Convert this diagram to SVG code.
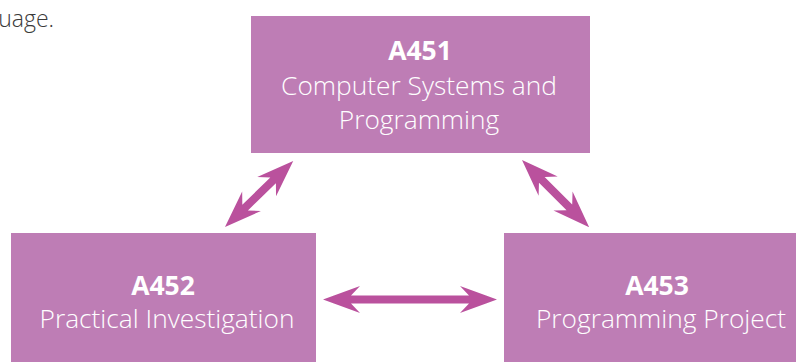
<svg xmlns="http://www.w3.org/2000/svg" width="796" height="362" viewBox="0 0 796 362">
<style>
.box{fill:#BE7DB5}
.t{font-family:"Open Sans","Liberation Sans",sans-serif;fill:#fff;text-anchor:middle}
.h{font-weight:700;font-size:26.5px}
.b{font-weight:300;font-size:26.3px}
.arr{fill:#BA519D}
</style>
<rect width="796" height="362" fill="#fff"/>
<text x="54" y="27" font-family="'Open Sans','Liberation Sans',sans-serif" font-weight="300" font-size="23" fill="#3a3a3a" text-anchor="end">uage.</text>
<g id="a451">
<rect class="box" x="251" y="16" width="339" height="137"/>
<text class="t h" x="420" y="60">A451</text>
<text class="t b" x="419" y="95">Computer Systems and</text>
<text class="t b" x="419" y="129">Programming</text>
</g>
<g id="a452">
<rect class="box" x="11" y="233" width="305" height="129"/>
<text class="t h" x="163" y="295">A452</text>
<text class="t b" x="167" y="328">Practical Investigation</text>
</g>
<g id="a453">
<rect class="box" x="504" y="233" width="292" height="129"/>
<text class="t h" x="657" y="295">A453</text>
<text class="t b" x="661" y="328">Programming Project</text>
</g>
<g id="connectors" class="arr">
<path transform="translate(225,227) rotate(-44.1)" d="M0,0 L37,-13.5 L28,-4 L67,-4 L58,-13.5 L95,0 L58,13.5 L67,4 L28,4 L37,13.5 Z"/>
<path transform="translate(522,160) rotate(45)" d="M0,0 L37,-13.5 L28,-4 L67,-4 L58,-13.5 L95,0 L58,13.5 L67,4 L28,4 L37,13.5 Z"/>
<path transform="translate(323,299.5)" d="M0,0 L37,-13.5 L28,-4 L146,-4 L137,-13.5 L174,0 L137,13.5 L146,4 L28,4 L37,13.5 Z"/>
</g>
</svg>
